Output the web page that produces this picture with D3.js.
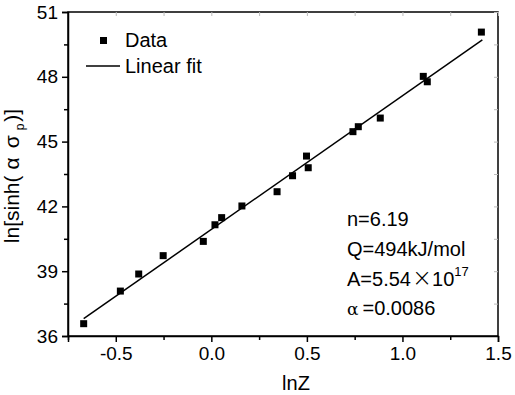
<!DOCTYPE html>
<html>
<head>
<meta charset="utf-8">
<script src="https://cdn.jsdelivr.net/npm/d3@7"></script>
<style>
  html, body { margin: 0; padding: 0; background: #fff; }
  svg { display: block; font-family: "Liberation Sans", Arial, sans-serif; }
</style>
</head>
<body>
<div id="chart"></div>
<script>
// lnZ vs ln[sinh(a*sigma_p)] with linear fit
const lnZ = [-0.668, -0.476, -0.380, -0.252, -0.042, 0.019, 0.054, 0.160,
  0.344, 0.425, 0.498, 0.507, 0.741, 0.769, 0.884, 1.109, 1.130, 1.413];
const lnSinh = [36.57, 38.08, 38.87, 39.72, 40.38, 41.15, 41.48, 42.02,
  42.68, 43.42, 44.33, 43.79, 45.46, 45.69, 46.09, 48.02, 47.77, 50.07];
const fitX = [-0.668, 1.418];
const fitY = [36.80, 49.71];
const xTicks = [-0.5, 0.0, 0.5, 1.0, 1.5];
const yTicks = [36, 39, 42, 45, 48, 51];
const xMinor = [-0.75, -0.25, 0.25, 0.75, 1.25];
const yMinor = [37.5, 40.5, 43.5, 46.5, 49.5];
const notes = ["n=6.19", "Q=494kJ/mol", "A=5.54", "=0.0086"];

const W = 515, H = 395;
const margin = { top: 12, right: 17, bottom: 59, left: 68 };
const width = W - margin.left - margin.right;
const height = H - margin.top - margin.bottom;

const svg = d3.select("#chart").append("svg")
  .attr("width", W).attr("height", H);
const g = svg.append("g")
  .attr("transform", `translate(${margin.left},${margin.top})`);

const x = d3.scaleLinear().domain([-0.75, 1.5]).range([0, width]);
const y = d3.scaleLinear().domain([36, 51]).range([height, 0]);

// frame
g.append("rect")
  .attr("width", width).attr("height", height)
  .attr("fill", "none").attr("stroke", "#000").attr("stroke-width", 1.5);

// faint inner ticks on top/right
const rightAx = g.append("g").attr("transform", `translate(${width},0)`)
  .call(d3.axisLeft(y).tickValues(yTicks.concat(yMinor)).tickSize(4).tickFormat(""));
rightAx.select(".domain").remove();
rightAx.selectAll("text").remove();
rightAx.selectAll("line").attr("stroke", "#bbb");
const topAx = g.append("g")
  .call(d3.axisBottom(x).tickValues(xTicks.concat(xMinor)).tickSize(4).tickFormat(""));
topAx.select(".domain").remove();
topAx.selectAll("text").remove();
topAx.selectAll("line").attr("stroke", "#bbb");

// bottom axis
const xAxis = g.append("g").attr("transform", `translate(0,${height})`);
xAxis.call(d3.axisBottom(x).tickValues(xTicks).tickSize(6).tickPadding(5)
  .tickFormat(d => d3.format(".1f")(d).replace("\u2212", "-")));
xAxis.selectAll("text").attr("font-size", 19).attr("fill", "#000")
  .attr("font-family", "Liberation Sans, Arial, sans-serif");
const xMin = xAxis.append("g").call(d3.axisBottom(x).tickValues(xMinor).tickSize(4).tickFormat(""));
xMin.select(".domain").remove();
xMin.selectAll("text").remove();
xAxis.selectAll(".domain").attr("stroke-width", 1.5);
xAxis.selectAll("line").attr("stroke-width", 1.5);

// left axis
const yAxis = g.append("g");
yAxis.call(d3.axisLeft(y).tickValues(yTicks).tickSize(6).tickPadding(4));
yAxis.selectAll("text").attr("font-size", 19).attr("fill", "#000")
  .attr("font-family", "Liberation Sans, Arial, sans-serif");
const yMin = yAxis.append("g").call(d3.axisLeft(y).tickValues(yMinor).tickSize(4).tickFormat(""));
yMin.select(".domain").remove();
yMin.selectAll("text").remove();
yAxis.selectAll(".domain").attr("stroke-width", 1.5);
yAxis.selectAll("line").attr("stroke-width", 1.5);

// fit line
const line = d3.line().x(d => x(d[0])).y(d => y(d[1]));
g.append("path")
  .datum(fitX.map((v, i) => [v, fitY[i]]))
  .attr("d", line)
  .attr("fill", "none").attr("stroke", "#000").attr("stroke-width", 1.5);

// data points
const ms = 7;
g.selectAll(".pt").data(lnZ.map((v, i) => [v, lnSinh[i]]))
  .join("rect").attr("class", "pt")
  .attr("x", d => x(d[0]) - ms / 2).attr("y", d => y(d[1]) - ms / 2)
  .attr("width", ms).attr("height", ms).attr("fill", "#000");

// legend
const leg = g.append("g").attr("font-size", 20);
leg.append("rect").attr("x", 35 - 3).attr("y", 28.5 - 3.5)
  .attr("width", 7).attr("height", 7).attr("fill", "#000");
leg.append("text").attr("x", 57).attr("y", 35).text("Data");
leg.append("line").attr("x1", 18).attr("x2", 52).attr("y1", 54).attr("y2", 54)
  .attr("stroke", "#000").attr("stroke-width", 1.5);
leg.append("text").attr("x", 57).attr("y", 61).text("Linear fit");

// annotation
const ann = g.append("g").attr("font-size", 20);
const ax = 279;
ann.append("text").attr("x", ax).attr("y", 214).text(notes[0]);
ann.append("text").attr("x", ax).attr("y", 244).text(notes[1]);
const aT = ann.append("text").attr("x", ax).attr("y", 274);
aT.append("tspan").text(notes[2]);
aT.append("tspan").attr("font-size", 24).attr("font-weight", 200)
  .attr("font-family", "DejaVu Sans").attr("dx", 1).text("\u00D7");
aT.append("tspan").text("10");
aT.append("tspan").attr("font-size", 13).attr("dy", -10).text("17");
const alT = ann.append("text").attr("x", ax).attr("y", 303);
alT.append("tspan").attr("font-family", "DejaVu Serif").attr("font-size", 17)
  .text("\u03B1");
alT.append("tspan").attr("dx", 4).text(notes[3]);

// axis titles
svg.append("text").attr("x", 296).attr("y", 390)
  .attr("text-anchor", "middle").attr("font-size", 20).text("lnZ");

const yl = svg.append("text")
  .attr("transform", `translate(19,${margin.top + height / 2 + 2}) rotate(-90)`)
  .attr("text-anchor", "middle").attr("font-size", 21);
yl.append("tspan").text("ln[sinh(");
yl.append("tspan").attr("font-size", 21).attr("dx", 6).text("\u03B1");
yl.append("tspan").attr("font-size", 21).attr("dx", 9).text("\u03C3");
yl.append("tspan").attr("font-size", 12).attr("dy", 5).attr("dx", 5).text("p");
yl.append("tspan").attr("dy", -5).attr("dx", 2).text(")]");
</script>
</body>
</html>
